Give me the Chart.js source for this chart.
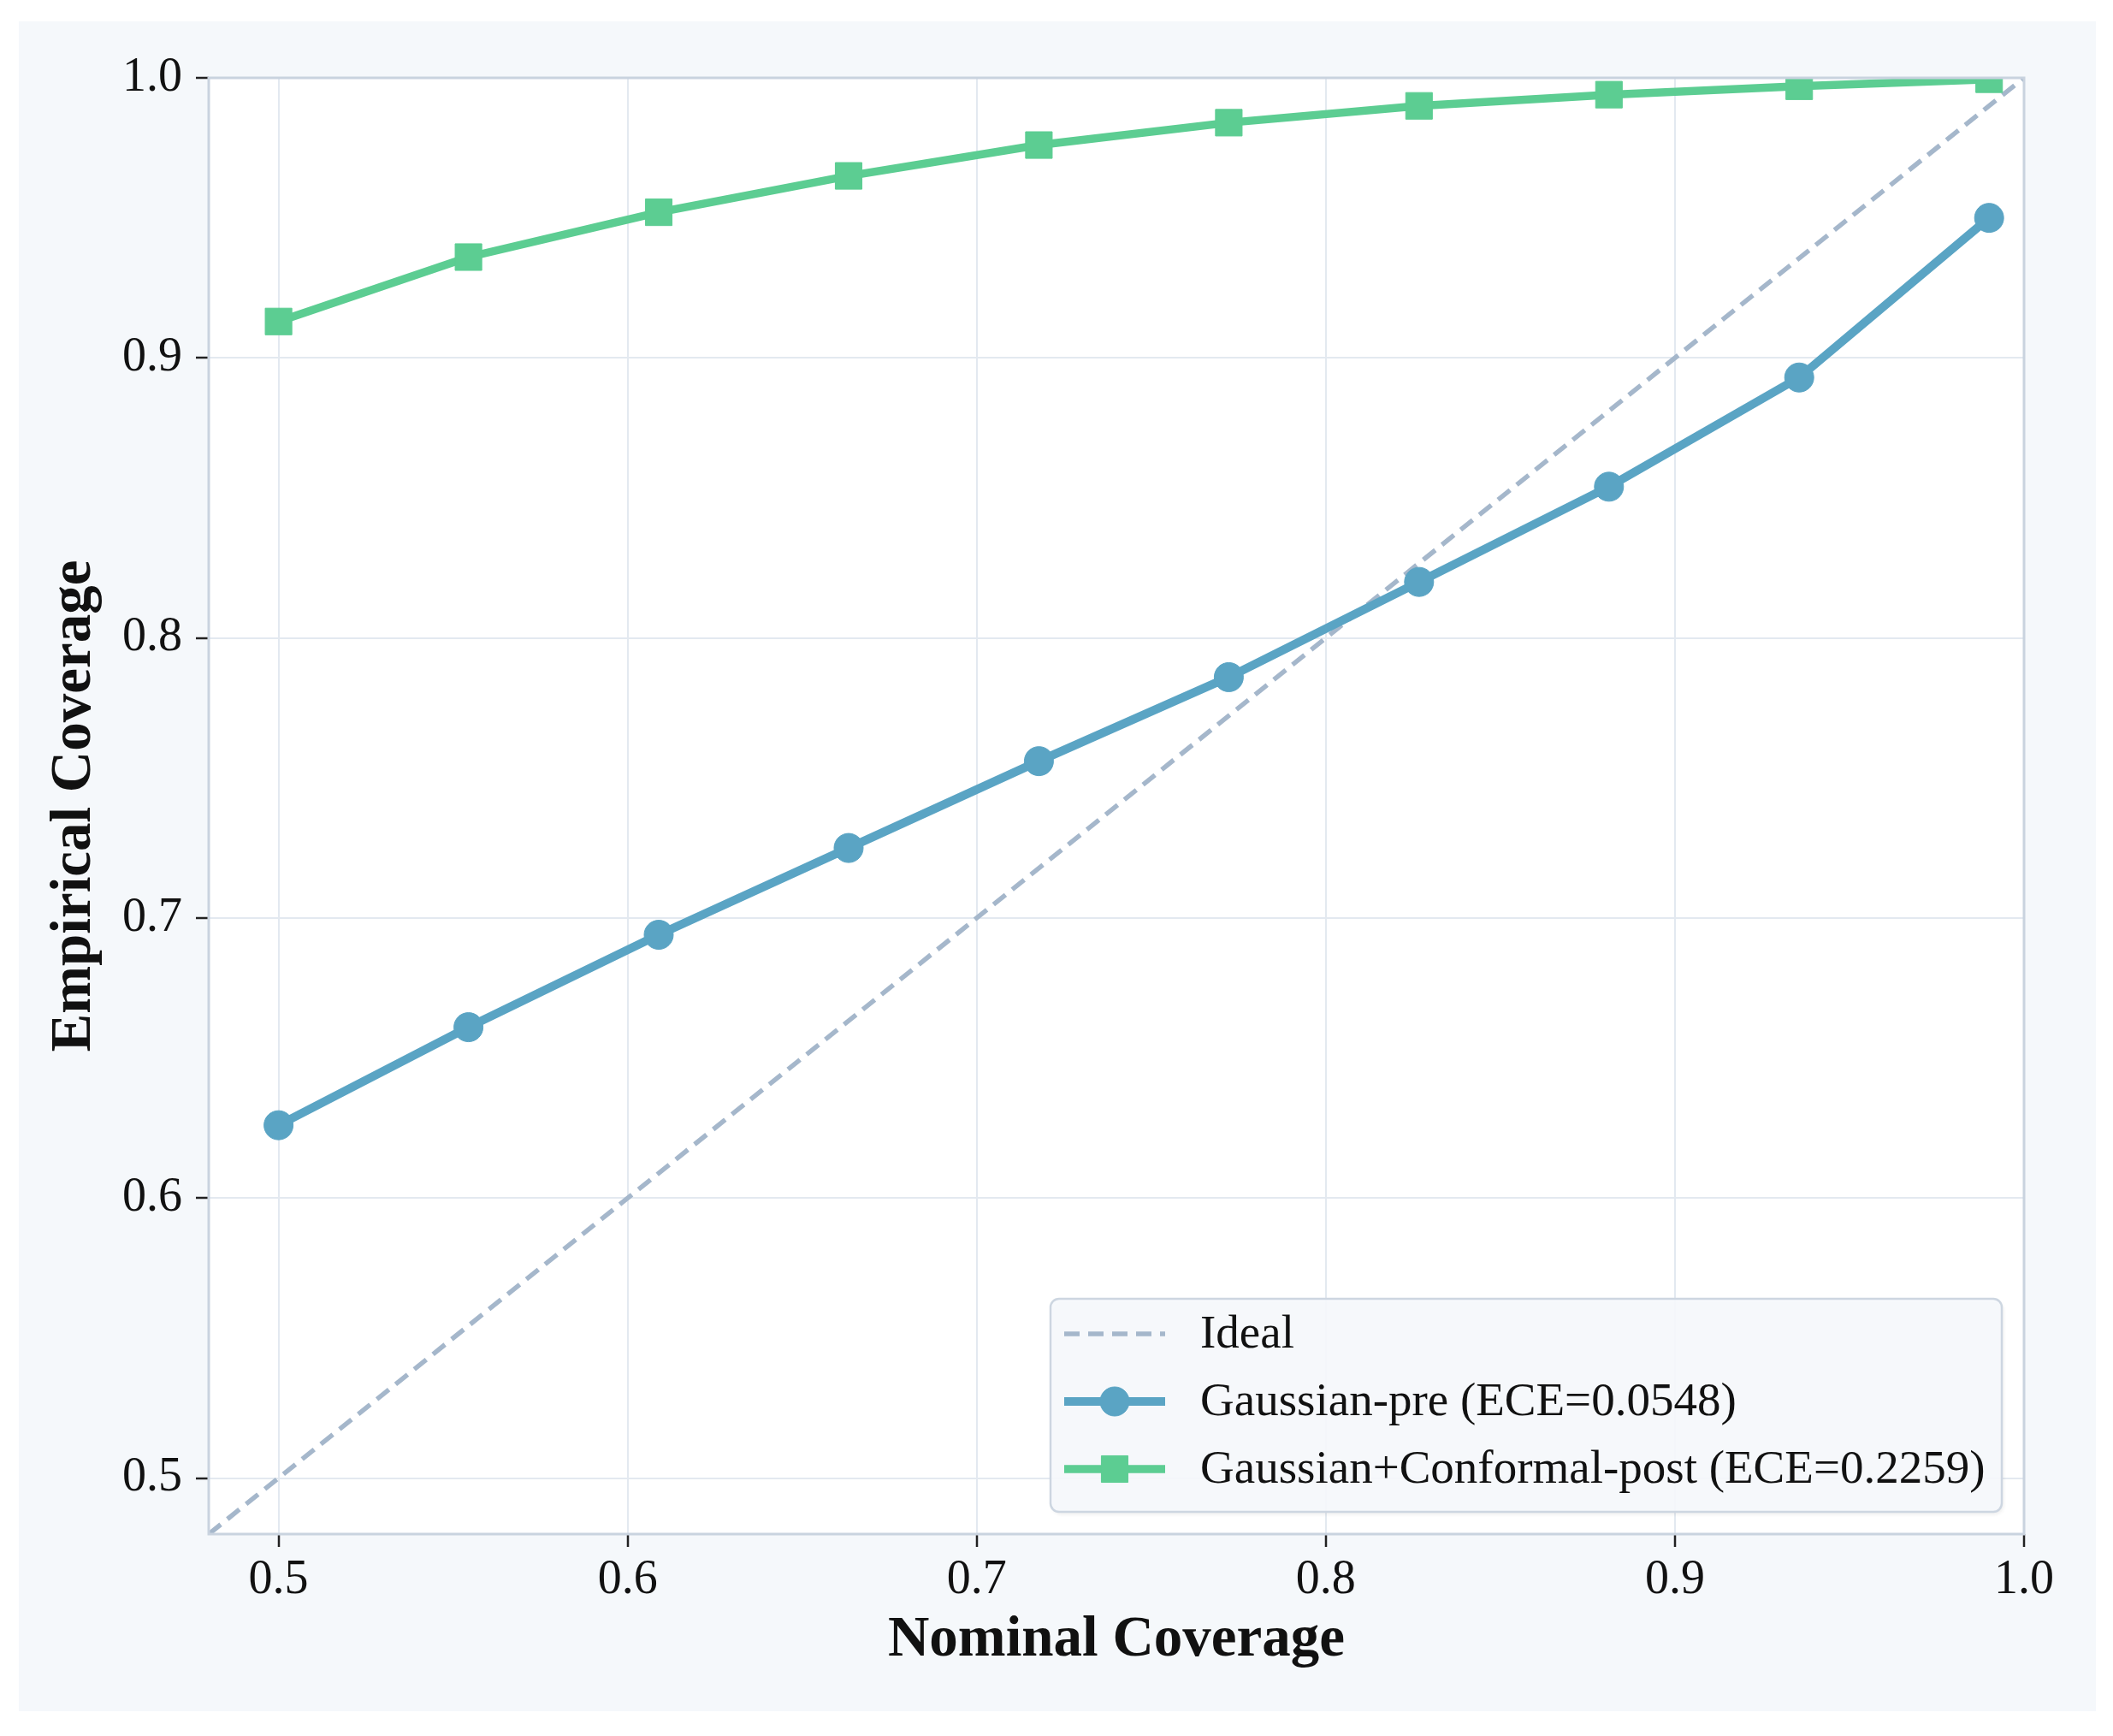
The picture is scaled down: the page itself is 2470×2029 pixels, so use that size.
<!DOCTYPE html>
<html>
  <head>
    <meta charset="UTF-8">
    <style>
      body { margin: 0; background: #fff; }
    </style>
  </head>
  <body>
    <canvas id="calib" width="2470" height="2029"></canvas>

    <script src="https://cdn.jsdelivr.net/npm/chart.js@4.4.1/dist/chart.umd.min.js"></script>

    <script type="text/javascript">

      // nominal coverage levels
      const nominal = [0.5, 0.5544, 0.6089, 0.6633, 0.7178, 0.7722, 0.8267, 0.8811, 0.9356, 0.99];
      // empirical coverage
      const gaussian_pre = [0.626, 0.661, 0.694, 0.725, 0.756, 0.786, 0.820, 0.854, 0.893, 0.950];
      const conformal_post = [0.913, 0.936, 0.952, 0.965, 0.976, 0.984, 0.990, 0.994, 0.997, 0.9995];
      const ideal_x = [0.48, 1.0];
      const ideal_y = [0.48, 1.0];

      const x_ticks = [0.5, 0.6, 0.7, 0.8, 0.9, 1.0];
      const y_ticks = [0.5, 0.6, 0.7, 0.8, 0.9, 1.0];

      const labels = ['Ideal', 'Gaussian-pre (ECE=0.0548)', 'Gaussian+Conformal-post (ECE=0.2259)'];

      const SERIF = "'Times New Roman', 'Liberation Serif', serif";

      function pts(xs, ys) {
        return xs.map((x, i) => ({x: x, y: ys[i]}));
      }

      // panel + white plot area behind everything, frame + legend on top
      const decor = {
        id: 'decor',
        beforeDraw(chart) {
          const ctx = chart.ctx, a = chart.chartArea;
          ctx.save();
          ctx.fillStyle = '#f5f8fb';
          ctx.fillRect(22, 25, 2428, 1975);
          ctx.fillStyle = '#ffffff';
          ctx.fillRect(a.left, a.top, a.right - a.left, a.bottom - a.top);
          ctx.restore();
        },
        afterDatasetsDraw(chart) {
          const ctx = chart.ctx, a = chart.chartArea;
          ctx.save();
          ctx.strokeStyle = '#c9d3df';
          ctx.lineWidth = 3;
          ctx.strokeRect(a.left, a.top, a.right - a.left, a.bottom - a.top);
          ctx.restore();
        },
        afterDraw(chart) {
          const ctx = chart.ctx;
          const bx = 1228, by = 1518, bw = 1112, bh = 249;
          ctx.save();
          ctx.shadowColor = 'rgba(0,0,0,0.08)';
          ctx.shadowOffsetX = 2;
          ctx.shadowOffsetY = 3;
          ctx.shadowBlur = 4;
          ctx.beginPath();
          ctx.roundRect(bx, by, bw, bh, 10);
          ctx.fillStyle = 'rgba(246,249,252,0.92)';
          ctx.fill();
          ctx.shadowColor = 'transparent';
          ctx.strokeStyle = '#cdd6e1';
          ctx.lineWidth = 2.5;
          ctx.stroke();

          chart.data.datasets.forEach((ds, i) => {
            const y = 1559 + i * 79;
            ctx.beginPath();
            ctx.setLineDash(ds.borderDash || []);
            ctx.strokeStyle = ds.borderColor;
            ctx.lineWidth = ds.borderWidth;
            ctx.moveTo(1244, y);
            ctx.lineTo(1362, y);
            ctx.stroke();
            ctx.setLineDash([]);
            if (ds.pointRadius > 0) {
              ctx.fillStyle = ds.backgroundColor;
              ctx.strokeStyle = ds.borderColor;
              ctx.lineWidth = 1;
              Chart.helpers.drawPoint(ctx, {pointStyle: ds.pointStyle, radius: ds.pointRadius, rotation: 0, borderWidth: 1}, 1303, y);
            }
            ctx.fillStyle = '#111';
            ctx.font = '55px ' + SERIF;
            ctx.textBaseline = 'middle';
            ctx.textAlign = 'left';
            ctx.fillText(ds.label, 1403, y + 2);
          });
          ctx.restore();
        }
      };

      function fixTicks(vals) {
        return function (scale) {
          scale.ticks = vals.map(v => ({value: v}));
        };
      }

      const tickFont = {family: SERIF, size: 56};
      const titleFont = {family: SERIF, size: 67, weight: 'bold'};

      new Chart(document.getElementById('calib'), {
        type: 'line',
        data: {
          datasets: [
            {
              label: labels[0],
              data: pts(ideal_x, ideal_y),
              borderColor: '#a5b7cb',
              backgroundColor: '#a5b7cb',
              borderWidth: 5.5,
              borderDash: [18, 10],
              pointRadius: 0,
              order: 3
            },
            {
              label: labels[1],
              data: pts(nominal, gaussian_pre),
              borderColor: '#5aa4c4',
              backgroundColor: '#5aa4c4',
              borderWidth: 10,
              pointStyle: 'circle',
              pointRadius: 17,
              pointBorderWidth: 1,
              order: 2
            },
            {
              label: labels[2],
              data: pts(nominal, conformal_post),
              borderColor: '#5ccd92',
              backgroundColor: '#5ccd92',
              borderWidth: 9.5,
              pointStyle: 'rect',
              pointRadius: 22,
              pointBorderWidth: 1,
              order: 1,
              clip: 0
            }
          ]
        },
        options: {
          responsive: false,
          animation: false,
          layout: {padding: {left: 0, top: 91, right: 104, bottom: 0}},
          plugins: {legend: {display: false}, tooltip: {enabled: false}},
          scales: {
            x: {
              type: 'linear',
              min: 0.48,
              max: 1.0,
              afterBuildTicks: fixTicks(x_ticks),
              afterFit(s) { s.height = 236; },
              grid: {color: '#e3e9f0', lineWidth: 2, tickColor: '#222', tickLength: 15, tickWidth: 2.5},
              border: {display: false},
              ticks: {font: tickFont, color: '#111', padding: 6, callback: v => v.toFixed(1)},
              title: {display: true, text: 'Nominal Coverage', font: titleFont, color: '#111', padding: {top: 0, bottom: 71}}
            },
            y: {
              type: 'linear',
              min: 0.48,
              max: 1.0,
              afterBuildTicks: fixTicks(y_ticks),
              afterFit(s) { s.width = 244; },
              grid: {color: '#e3e9f0', lineWidth: 2, tickColor: '#222', tickLength: 15, tickWidth: 2.5},
              border: {display: false},
              ticks: {font: tickFont, color: '#111', padding: 16, callback: v => v.toFixed(1)},
              title: {display: true, text: 'Empirical Coverage', font: titleFont, color: '#111', padding: {top: 47, bottom: 0}}
            }
          }
        },
        plugins: [decor]
      });

    </script>
  </body>
</html>
